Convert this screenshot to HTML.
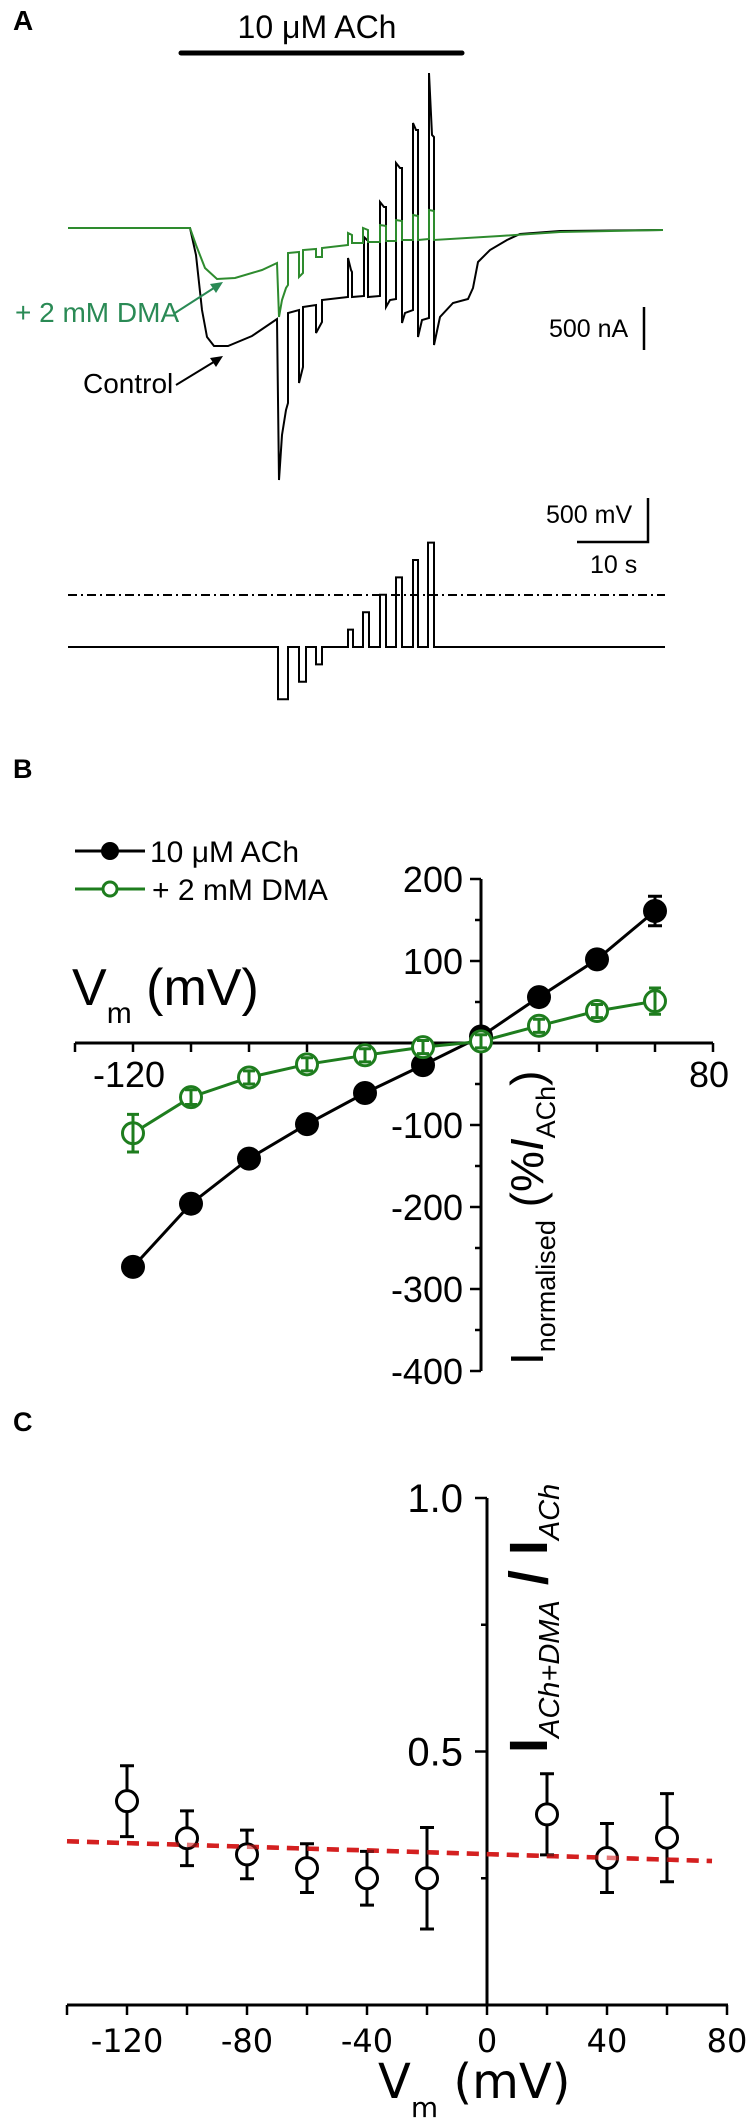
<!DOCTYPE html>
<html><head><meta charset="utf-8"><style>
html,body{margin:0;padding:0;background:#fff;}
svg{display:block;}
</style></head><body>
<svg id="fig" width="750" height="2127" viewBox="0 0 750 2127" xmlns="http://www.w3.org/2000/svg" font-family="Liberation Sans, Arial, sans-serif">
<rect width="750" height="2127" fill="#fff"/>

<!-- Panel A -->
<text x="13" y="30" font-size="28" font-weight="bold">A</text>
<text x="317" y="38" font-size="32" text-anchor="middle">10 μM ACh</text>
<line x1="181" y1="53" x2="462" y2="53" stroke="#000" stroke-width="5" stroke-linecap="round"/>

<g id="traces" fill="none" stroke-linejoin="miter"></g>

<text x="15" y="322" font-size="28" fill="#2a8a55">+ 2 mM DMA</text>
<line x1="175" y1="313" x2="217" y2="286" stroke="#2a8a55" stroke-width="2"/>
<polygon points="223,282 210,284 216,293" fill="#2a8a55"/>
<text x="83" y="393" font-size="28">Control</text>
<line x1="176" y1="385" x2="217" y2="360" stroke="#000" stroke-width="2"/>
<polygon points="223,356 210,358 216,367" fill="#000"/>

<text x="549" y="337" font-size="25">500 nA</text>
<line x1="644" y1="307" x2="644" y2="350" stroke="#000" stroke-width="2.5"/>
<text x="546" y="523" font-size="25">500 mV</text>
<polyline points="648,498 648,542 577,542" fill="none" stroke="#000" stroke-width="2.5"/>
<text x="590" y="573" font-size="25">10 s</text>

<line x1="68" y1="595" x2="665" y2="595" stroke="#000" stroke-width="2" stroke-dasharray="9 4 2 4"/>
<g id="vtrace"></g>

<!-- Panel B -->
<text x="13" y="778" font-size="27" font-weight="bold">B</text>
<g id="chartB"></g>

<!-- Panel C -->
<text x="13" y="1431" font-size="27" font-weight="bold">C</text>
<g id="chartC"></g>
</svg>

<script>
// ===== Panel B data =====
const bVoltages = [-120,-100,-80,-60,-40,-20,0,20,40,60];
const bAch = [-273,-196,-141,-99,-61,-27,8,56,102,161];
const bAchErr = [5,5,5,5,5,5,5,5,5,18];
const bDma = [-110,-66,-42,-26,-15,-5,2,21,39,51];
const bDmaErr = [23,9,8,8,8,8,8,8,8,16];
const bXTicks = [-140,-120,-100,-80,-60,-40,-20,0,20,40,60,80];
const bXLabels = [-120,80];
const bYTicks = [200,100,-100,-200,-300,-400];
const bYMinor = [150,50,-50,-150,-250,-350];

// ===== Panel C data =====
const cVoltages = [-120,-100,-80,-60,-40,-20,20,40,60];
const cRatio = [0.402,0.329,0.297,0.27,0.25,0.25,0.376,0.29,0.33];
const cErr = [0.07,0.054,0.048,0.048,0.053,0.1,0.08,0.068,0.087];
const cFitX = [-140,75];
const cFitY = [0.323,0.284];
const cXTicks = [-140,-120,-100,-80,-60,-40,-20,0,20,40,60,80];
const cXLabels = [-120,-80,-40,0,40,80];
const cYTicks = [0.5,1.0];
const cYMinor = [0.25,0.75];

const NS = "http://www.w3.org/2000/svg";
function mk(parent, tag, attrs, text){
  const e = document.createElementNS(NS, tag);
  for (const k in attrs) e.setAttribute(k, attrs[k]);
  if (text !== undefined) e.textContent = text;
  parent.appendChild(e);
  return e;
}

// ===== Panel A traces (pixel-space sketch of recording) =====
function ppath(pts){ return pts.map((p,i)=>(i?'L':'M')+p[0]+','+p[1]).join(' '); }
const controlPts = [[68,228],[190,228],[196,255],[202,310],[207,337],[214,346],[228,346],[252,336],[277,319],
 [279,480],[282,435],[286,410],[288,403],[288,313],[299,310],[299,383],[303,367],[303,307],[316,305],[316,333],[322,322],[322,300],
 [348,297],[348,258],[351,270],[352,272],[352,297],[364,296],[364,237],[367,240],[368,240],[368,297],[380,296],[380,202],[384,207],[386,207],[386,307],[390,300],
 [396,299],[396,163],[400,168],[402,168],[402,323],[405,313],[413,310],[413,123],[416,130],[418,130],[418,337],[422,320],[429,318],[429,73],[432,135],[434,137],[434,345],
 [440,317],[453,303],[468,299],[473,288],[478,262],[490,250],[507,240],[520,234],[560,231],[663,230]];
const dmaPts = [[68,228],[190,228],[196,245],[205,268],[217,279],[235,278],[262,270],[277,263],
 [279,317],[282,300],[286,288],[288,285],[288,253],[299,252],[299,277],[303,273],[303,250],[316,249],[316,257],[322,257],[322,248],
 [348,245],[348,233],[352,235],[352,243],[363,243],[363,228],[368,230],[368,242],[380,242],[380,225],[386,226],[386,241],
 [396,241],[396,220],[402,221],[402,240],[413,240],[413,215],[418,216],[418,240],[429,239],[429,210],[434,211],[434,240],[500,236],[560,232],[663,230]];
const tr = document.getElementById('traces');
let p1 = mk(tr,'path',{d:ppath(controlPts),stroke:'#000','stroke-width':'2'});


let p2 = mk(tr,'path',{d:ppath(dmaPts),stroke:'#2e8b2e','stroke-width':'2'});



// voltage protocol
const holdY = 647, mvPx = 17.4/20;
const stepV = [-120,-100,-80,-40,-20,0,20,40,60];
const stepStart = [278,299,316,348,363,380,396,413,428];
const stepEnd = [288,306,322,353,369,386,402,418,434];
let vd = 'M68,'+holdY;
for (let i=0;i<stepV.length;i++){
  const y = holdY - (stepV[i]+60)*mvPx;
  vd += ` L${stepStart[i]},${holdY} L${stepStart[i]},${y.toFixed(1)} L${stepEnd[i]},${y.toFixed(1)} L${stepEnd[i]},${holdY}`;
}
vd += ' L665,'+holdY;
let vp = mk(document.getElementById('vtrace'),'path',{d:vd,fill:'none',stroke:'#000','stroke-width':'2'});



// ===== Panel B =====
const gB = document.getElementById('chartB');
const xB = v => 481 + v*2.9;
const yB = v => 1043 - v*0.82;
let ax = mk(gB,'line',{x1:75,y1:yB(0),x2:713,y2:yB(0),stroke:'#000','stroke-width':3});


let ay = mk(gB,'line',{x1:xB(0),y1:yB(200),x2:xB(0),y2:yB(-400),stroke:'#000','stroke-width':3});


bXTicks.forEach(v=>{ let t=mk(gB,'line',{x1:xB(v),y1:yB(0),x2:xB(v),y2:yB(0)+9,stroke:'#000','stroke-width':2.5});
    });
bXLabels.forEach(v=>{ let t=mk(gB,'text',{x:xB(v)-4,y:1087,'font-size':36,'text-anchor':'middle'},String(v));
    });
bYTicks.forEach(v=>{ let t=mk(gB,'line',{x1:xB(0)-11,y1:yB(v),x2:xB(0),y2:yB(v),stroke:'#000','stroke-width':2.5});
   
  let l=mk(gB,'text',{x:463,y:yB(v)+13,'font-size':36,'text-anchor':'end'},String(v));
    });
bYMinor.forEach(v=>{ let t=mk(gB,'line',{x1:xB(0)-6,y1:yB(v),x2:xB(0),y2:yB(v),stroke:'#000','stroke-width':2.5});
    });

let bxt = mk(gB,'text',{x:72,y:1005,'font-size':52});


mk(bxt,'tspan',{},'V'); mk(bxt,'tspan',{'font-size':30,dy:18},'m'); mk(bxt,'tspan',{dy:-18},' (mV)');

let byt = mk(gB,'text',{transform:'translate(543,1365) rotate(-90)','font-size':46});


mk(byt,'tspan',{},'I'); mk(byt,'tspan',{'font-size':27,dy:12},'normalised'); mk(byt,'tspan',{dy:-12},' (%');
mk(byt,'tspan',{'font-style':'italic'},'I'); mk(byt,'tspan',{'font-size':27,dy:12},'ACh'); mk(byt,'tspan',{dy:-12},')');

function polyline(g, xs, ys, fx, fy, color, name){
  const pts = xs.map((v,i)=>fx(v)+','+fy(ys[i])).join(' ');
  let l = mk(g,'polyline',{points:pts,fill:'none',stroke:color,'stroke-width':3});
  
  
}
polyline(gB,bVoltages,bAch,xB,yB,'#000','ach-series-line');
polyline(gB,bVoltages,bDma,xB,yB,'#1e7d1e','dma-series-line');
function errbar(g,x,yc,yt,yb,color,w,name){
  let e = mk(g,'path',{d:`M${x},${yt} L${x},${yb} M${x-w},${yt} L${x+w},${yt} M${x-w},${yb} L${x+w},${yb}`,stroke:color,'stroke-width':3,fill:'none'});
  
  
}
bVoltages.forEach((v,i)=>{
  errbar(gB,xB(v),yB(bAch[i]),yB(bAch[i]+bAchErr[i]),yB(bAch[i]-bAchErr[i]),'#000',7,'ach-error-bar');
  let c = mk(gB,'circle',{cx:xB(v),cy:yB(bAch[i]),r:12,fill:'#000'});
  
  
});
bVoltages.forEach((v,i)=>{
  let c = mk(gB,'circle',{cx:xB(v),cy:yB(bDma[i]),r:10.5,fill:'#fff',stroke:'#1e7d1e','stroke-width':3});
  
  
  errbar(gB,xB(v),yB(bDma[i]),yB(bDma[i]+bDmaErr[i]),yB(bDma[i]-bDmaErr[i]),'#1e7d1e',6,'dma-error-bar');
});
let lg1 = mk(gB,'g',{});


mk(lg1,'line',{x1:75,y1:851,x2:145,y2:851,stroke:'#000','stroke-width':3});
mk(lg1,'circle',{cx:110,cy:851,r:9,fill:'#000'});
mk(lg1,'text',{x:150,y:862,'font-size':30},'10 μM ACh');
let lg2 = mk(gB,'g',{});


mk(lg2,'line',{x1:75,y1:889,x2:145,y2:889,stroke:'#1e7d1e','stroke-width':3});
mk(lg2,'circle',{cx:110,cy:889,r:7,fill:'#fff',stroke:'#1e7d1e','stroke-width':3});
mk(lg2,'text',{x:152,y:900,'font-size':30},'+ 2 mM DMA');

// ===== Panel C =====
const gC = document.getElementById('chartC');
const xC = v => 487 + v*3.0;
const yC = v => 2005 - v*507;
let cax = mk(gC,'line',{x1:xC(-140),y1:yC(0),x2:xC(80)+1,y2:yC(0),stroke:'#000','stroke-width':3});


let cay = mk(gC,'line',{x1:xC(0),y1:yC(1.0),x2:xC(0),y2:yC(0),stroke:'#000','stroke-width':3});


cXTicks.forEach(v=>{ let t=mk(gC,'line',{x1:xC(v),y1:yC(0),x2:xC(v),y2:yC(0)+10,stroke:'#000','stroke-width':2.5});
    });
cXLabels.forEach(v=>{ let t=mk(gC,'text',{x:xC(v),y:2052,'font-size':32,'text-anchor':'middle','font-family':'DejaVu Sans, sans-serif'},String(v));
    });
cYTicks.forEach(v=>{ let t=mk(gC,'line',{x1:xC(0)-12,y1:yC(v),x2:xC(0),y2:yC(v),stroke:'#000','stroke-width':2.5});
   
  let l=mk(gC,'text',{x:463,y:yC(v)+14,'font-size':40,'text-anchor':'end'},v.toFixed(1));
    });
cYMinor.forEach(v=>{ let t=mk(gC,'line',{x1:xC(0)-6,y1:yC(v),x2:xC(0),y2:yC(v),stroke:'#000','stroke-width':2.5});
    });

let fit = mk(gC,'line',{x1:xC(cFitX[0]),y1:yC(cFitY[0]),x2:xC(cFitX[1]),y2:yC(cFitY[1]),stroke:'#d42020','stroke-width':4.5,'stroke-dasharray':'12 8'});


cVoltages.forEach((v,i)=>{
  errbar(gC,xC(v),yC(cRatio[i]),yC(cRatio[i]+cErr[i]),yC(cRatio[i]-cErr[i]),'#000',7,'ratio-error-bar');
  let c = mk(gC,'circle',{cx:xC(v),cy:yC(cRatio[i]),r:10.5,fill:'#fff',stroke:'#000','stroke-width':3});
  
  
});
let fit2 = mk(gC,'line',{x1:xC(cFitX[0]),y1:yC(cFitY[0]),x2:xC(cFitX[1]),y2:yC(cFitY[1]),stroke:'#d42020','stroke-width':4.5,'stroke-dasharray':'12 8','opacity':0.6});



let cxt = mk(gC,'text',{x:378,y:2098,'font-size':48,'font-family':'DejaVu Sans, sans-serif'});


mk(cxt,'tspan',{},'V'); mk(cxt,'tspan',{'font-size':28,dy:19},'m'); mk(cxt,'tspan',{dy:-19},' (mV)');

let cyt = mk(gC,'text',{transform:'translate(547,1753) rotate(-90)','font-size':54});


mk(cyt,'tspan',{'font-weight':'bold'},'I');
mk(cyt,'tspan',{'font-size':29,'font-style':'italic',dy:12},'ACh+DMA');
mk(cyt,'tspan',{dy:-12,'font-weight':'bold'},' / I');
mk(cyt,'tspan',{'font-size':29,'font-style':'italic',dy:12},'ACh');
</script>
</body></html>
